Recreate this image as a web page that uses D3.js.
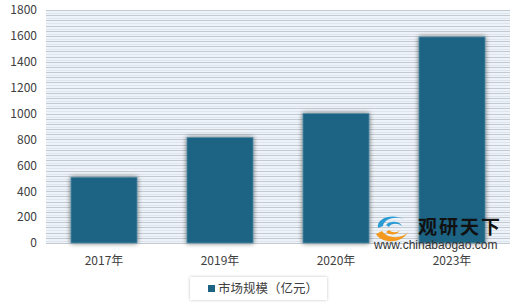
<!DOCTYPE html>
<html lang="zh">

<head>
    <meta charset="UTF-8">
    <title>市场规模</title>
    <script src="https://d3js.org/d3.v7.min.js"></script>
    <style>
        body { margin: 0; background: #fff; }
        text { font-family: "Noto Sans CJK SC", "Noto Sans", sans-serif; }
    </style>
</head>

<body>

    <svg id="chart"></svg>

    <script>
        const years = ["2017年", "2019年", "2020年", "2023年"];
        const marketSize = [508, 815, 1000, 1592];
        const yTicks = [0, 200, 400, 600, 800, 1000, 1200, 1400, 1600, 1800];
        const seriesName = "市场规模（亿元）";

        const width = 520, height = 305;
        const margin = { top: 10, right: 10, bottom: 62, left: 46 };
        const innerW = width - margin.left - margin.right;
        const innerH = height - margin.top - margin.bottom;

        const svg = d3.select("#chart")
            .attr("width", width)
            .attr("height", height);

        const defs = svg.append("defs");
        const shadow = defs.append("filter").attr("id", "shadow")
            .attr("x", "-30%").attr("y", "-10%").attr("width", "160%").attr("height", "120%");
        shadow.append("feGaussianBlur").attr("in", "SourceAlpha").attr("stdDeviation", 2.5);
        shadow.append("feComponentTransfer").append("feFuncA").attr("type", "linear").attr("slope", 0.55);
        const merge = shadow.append("feMerge");
        merge.append("feMergeNode");
        merge.append("feMergeNode").attr("in", "SourceGraphic");

        const legShadow = defs.append("filter").attr("id", "legshadow")
            .attr("x", "-10%").attr("y", "-30%").attr("width", "120%").attr("height", "160%");
        legShadow.append("feGaussianBlur").attr("in", "SourceAlpha").attr("stdDeviation", 1.5);
        legShadow.append("feComponentTransfer").append("feFuncA").attr("type", "linear").attr("slope", 0.25);
        const m2 = legShadow.append("feMerge");
        m2.append("feMergeNode");
        m2.append("feMergeNode").attr("in", "SourceGraphic");

        const x = d3.scaleBand().domain(years).range([0, innerW])
            .paddingInner(0.43).paddingOuter(0.215);
        const y = d3.scaleLinear().domain([0, 1800]).range([innerH, 0]);

        const g = svg.append("g").attr("transform", `translate(${margin.left},${margin.top})`);

        // plot background with thin horizontal stripes
        g.append("rect")
            .attr("width", innerW).attr("height", innerH)
            .attr("fill", "#edf3f8");

        const stripes = d3.range(0, 1801, 40);
        g.selectAll(".stripe")
            .data(stripes)
            .join("line")
            .attr("x1", 0).attr("x2", innerW)
            .attr("y1", d => Math.round(y(d)) + 0.5)
            .attr("y2", d => Math.round(y(d)) + 0.5)
            .attr("stroke", "#c3cad2");
        g.selectAll(".stripe2")
            .data(stripes.slice(1))
            .join("line")
            .attr("x1", 0).attr("x2", innerW)
            .attr("y1", d => Math.round(y(d)) + 3.5)
            .attr("y2", d => Math.round(y(d)) + 3.5)
            .attr("stroke", "#dfe5ec");

        // bars
        g.selectAll(".bar")
            .data(marketSize)
            .join("rect")
            .attr("x", (d, i) => x(years[i]))
            .attr("y", d => y(d))
            .attr("width", x.bandwidth())
            .attr("height", d => innerH - y(d))
            .attr("fill", "#1c6384")
            .attr("stroke", "#5d8ea5")
            .attr("stroke-width", 0.8)
            .attr("filter", "url(#shadow)");

        // y axis labels
        const yAxis = g.append("g")
            .call(d3.axisLeft(y).tickValues(yTicks).tickFormat(d3.format("d")).tickSize(0).tickPadding(9));
        yAxis.select(".domain").remove();
        yAxis.selectAll("text").attr("font-size", 12).attr("fill", "#404040");

        // x axis labels
        const xAxis = g.append("g")
            .attr("transform", `translate(0,${innerH})`)
            .call(d3.axisBottom(x).tickSize(0).tickPadding(13));
        xAxis.select(".domain").remove();
        xAxis.selectAll("text").attr("font-size", 12).attr("fill", "#404040");

        // legend
        const leg = svg.append("g").attr("transform", "translate(190,277)");
        leg.append("rect")
            .attr("width", 137).attr("height", 23)
            .attr("fill", "#fff")
            .attr("filter", "url(#legshadow)");
        leg.append("rect")
            .attr("x", 18).attr("y", 8).attr("width", 7).attr("height", 7)
            .attr("fill", "#1c6384");
        leg.append("text")
            .attr("x", 28).attr("y", 16)
            .attr("font-size", 12.5).attr("fill", "#404040")
            .text(seriesName);

        // watermark
        const wm = svg.append("g").attr("transform", "translate(374,214)");
        wm.append("path")
            .attr("d", "M4,14 C2,4 18,-1 30,5 C22,2 10,4 9,12 Z")
            .attr("fill", "#2a9bd3");
        wm.append("path")
            .attr("d", "M12,11 C16,6 26,7 28,12 C24,9 17,9 15,13 Z")
            .attr("fill", "#2a9bd3");
        wm.append("path")
            .attr("d", "M2,20 C8,30 28,30 34,18 C30,24 14,26 8,17 Z")
            .attr("fill", "#f39a1e");
        wm.append("path")
            .attr("d", "M12,18 C16,22 24,21 26,16 C24,19 18,19 15,16 Z")
            .attr("fill", "#f39a1e");
        wm.append("text")
            .attr("x", 44).attr("y", 20)
            .attr("font-size", 19).attr("font-weight", "bold").attr("fill", "#111")
            .attr("letter-spacing", 2)
            .text("观研天下");
        wm.append("text")
            .attr("x", 0).attr("y", 35)
            .attr("font-size", 12).attr("fill", "#333")
            .style("font-family", "Arial, 'Liberation Sans', sans-serif")
            .text("www.chinabaogao.com");
    </script>
</body>

</html>
